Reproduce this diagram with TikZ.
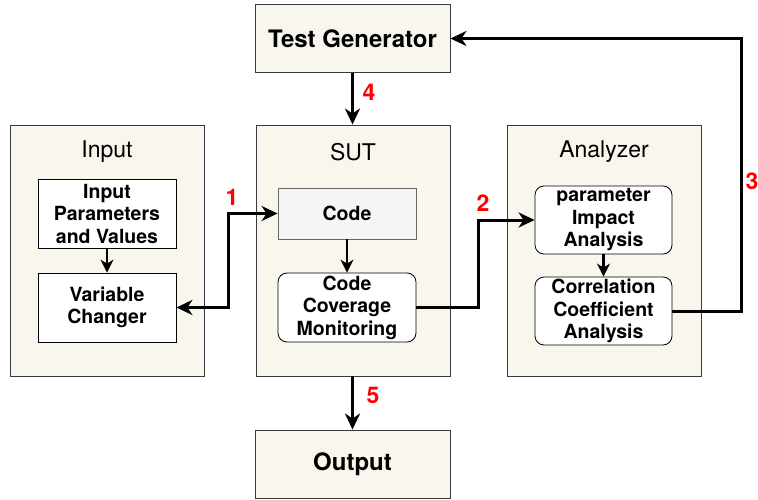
\documentclass[tikz,border=0pt]{standalone}
\usepackage{fontspec}
\setmainfont{TeX Gyre Heros}
\usetikzlibrary{arrows.meta}
\definecolor{panelfill}{HTML}{F9F7ED}
\definecolor{panelline}{HTML}{36393D}
\definecolor{codefill}{HTML}{F5F5F5}
\definecolor{codeline}{HTML}{666666}
\tikzset{
	panel/.style={draw=panelline, fill=panelfill, line width=0.9pt, minimum width=194pt, minimum height=251pt},
	bigbox/.style={draw=panelline, fill=panelfill, line width=0.9pt, minimum width=195pt, minimum height=68pt, font=\fontsize{24}{28}\selectfont\bfseries},
	inner/.style={draw=black, fill=white, line width=0.8pt, minimum width=138pt, minimum height=69pt, align=center, inner sep=1pt, font=\fontsize{19.5}{22.5}\selectfont\bfseries},
	title/.style={font=\fontsize{23}{27}\selectfont},
	num/.style={text=red, font=\fontsize{23}{27}\selectfont\bfseries},
	tip/.tip={Stealth[length=16pt, width=15pt, inset=5pt]},
	flow/.style={line width=3pt, -tip},
	step in/.style={line width=2.6pt, -{Stealth[length=13pt, width=13pt, inset=4pt]}}
}
\begin{document}
\begin{tikzpicture}[x=1pt, y=-1pt]
	\useasboundingbox (0,0) rectangle (758,500);
	
	% outer blocks
	\foreach \n/\x/\t in {inp/107/Input, sut/353/SUT, ana/604/Analyzer} {
		\node[panel] (\n) at (\x, 250.5) {};
		\node[title] (\n title) at (\x, 152) {\t};
	}
	\node[bigbox] (tg) at (352.5, 38.5) {Test Generator};
	\node[bigbox] (out) at (352.5, 464) {Output};
	
	% inner blocks
	\node[inner] (ipv) at (107, 213.5) {Input\\Parameters\\and Values};
	\node[inner] (vc) at (107, 307.5) {Variable\\Changer};
	\node[inner, draw=codeline, fill=codefill, minimum height=51pt] (code) at (347, 213.5) {Code};
	\node[inner, rounded corners=9pt] (ccm) at (347, 307.5) {Code\\Coverage\\Monitoring};
	\node[inner, rounded corners=9pt, minimum width=137pt, minimum height=68pt] (pia) at (603.5, 220) {parameter\\Impact\\Analysis};
	\node[inner, rounded corners=9pt, minimum width=137pt, minimum height=68pt] (cca) at (603.5, 311) {Correlation\\Coefficient\\Analysis};
	
	\draw[step in] (ipv) -- (vc);
	\draw[step in] (code) -- (ccm);
	\draw[step in] (pia) -- (cca);
	
	% numbered flows
	\draw[flow] (tg.south) -- (tg.south |- sut.north);
	\draw[flow] (sut.south -| out.north) -- (out.north);
	\draw[flow, tip-tip] (vc.east) -- ++(52,0) |- (code.west);
	\draw[flow] (ccm.east) -- ++(62,0) |- (pia.west);
	\draw[flow] (cca.east) -- ++(69,0) |- (tg.east);
	
	\node[num] (n1) at (232, 197) {1};
	\node[num] (n2) at (483, 203) {2};
	\node[num] (n3) at (752, 181) {3};
	\node[num] (n4) at (369, 92) {4};
	\node[num] (n5) at (373, 395) {5};
\end{tikzpicture}
\end{document}
